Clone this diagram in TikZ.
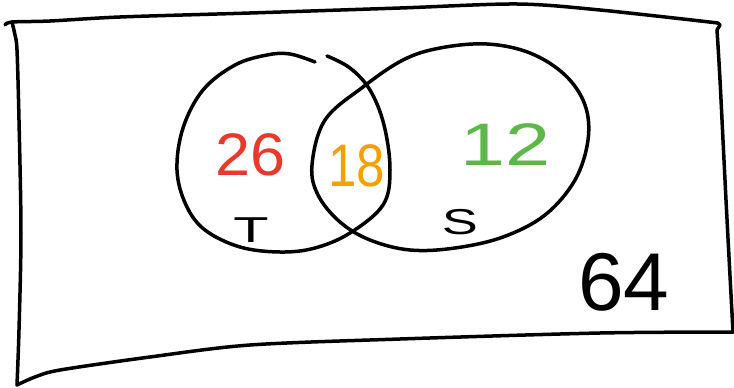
\documentclass[tikz,border=0pt]{standalone}
\usepackage{fontspec}
\setmainfont{Liberation Sans}
\definecolor{redn}{HTML}{E8392A}
\definecolor{orangen}{HTML}{F5A000}
\definecolor{greenn}{HTML}{5DB947}
\tikzset{
  ink/.style={line width=3.5pt, line cap=round, line join=round, black},
  numlabel/.style={inner sep=0pt, font=\fontsize{60}{60}\selectfont},
  setlabel/.style={inner sep=0pt, font=\fontsize{36}{36}\selectfont},
}
\begin{document}
\begin{tikzpicture}[x=1pt,y=-1pt]
\useasboundingbox (0,0) rectangle (734,388);
% frame
\draw[ink] plot[smooth, tension=0.5] coordinates {(5,25) (12,22) (50,21) (120,17) (250,13) (400,8) (517,4) (600,10) (718,23)};
\draw[ink] (718,23) -- (720,25) -- (717,30);
\draw[ink] plot[smooth, tension=0.5] coordinates {(717,30) (720,80) (726,200) (733,332)};
\draw[ink] plot[smooth, tension=0.5] coordinates {(733,332) (600,333) (400,339) (250,345) (150,357) (60,370) (35,377) (17,385)};
\draw[ink] plot[smooth, tension=0.5] coordinates {(17,385) (19,330) (21,233) (19,120) (17,50) (15,35) (12,22)};
% circle T
\draw[ink] plot[smooth, tension=0.6] coordinates {(327,56) (350,68) (370,90) (384,125) (390,170) (383,205) (350,233) (315,248) (280,252) (240,247) (205,230) (186,205) (177,170) (183,128) (203,90) (235,65) (267,55) (290,54) (315,62)};
% ellipse S
\draw[ink] plot[smooth cycle, tension=0.6] coordinates {(487,44) (530,53) (565,75) (585,105) (588,140) (575,180) (545,215) (503,237) (455,248) (410,250) (370,240) (340,222) (318,195) (312,165) (325,120) (363,87) (403,60) (440,48)};
% numbers
\node[numlabel, text=redn, xscale=1.05] (n26) at (251,155) {26};
\node[numlabel, text=orangen, xscale=0.85] (n18) at (357,166) {18};
\node[numlabel, text=greenn, xscale=1.35] (n12) at (506,145) {12};
\node[setlabel, xscale=1.6] (t) at (251,230) {T};
\node[setlabel, xscale=1.5] (s) at (460,222) {S};
\node[inner sep=0pt, font=\fontsize{82}{82}\selectfont] (n64) at (624,282) {64};
\end{tikzpicture}
\end{document}
